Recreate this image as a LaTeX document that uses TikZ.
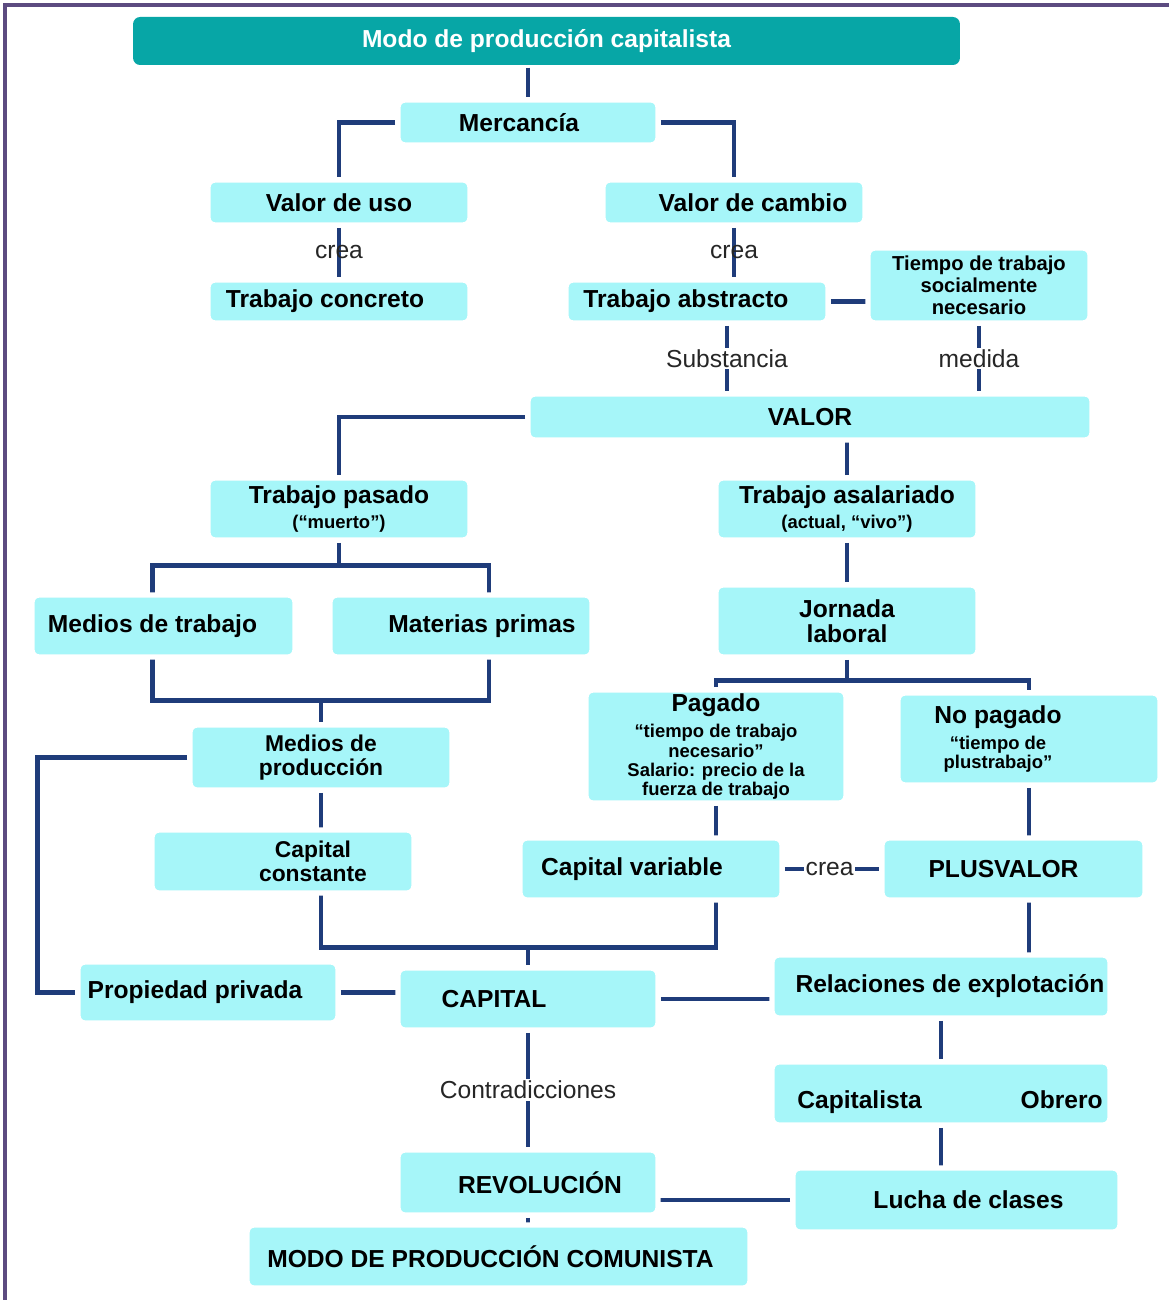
\documentclass[tikz,border=0pt]{standalone}
\usepackage{fontspec}
\setmainfont{Liberation Sans}
\usetikzlibrary{calc, backgrounds}

\definecolor{boxcyan}{HTML}{A6F6F9}
\definecolor{linkblue}{HTML}{1F3C7A}
\definecolor{titleteal}{HTML}{07A6A6}
\definecolor{framepurple}{HTML}{5C4B80}

\newcommand{\subtxt}{\fontsize{10.5}{11}\selectfont}

\tikzset{
  concept/.style = {fill=boxcyan, draw=white, line width=3pt, rounded corners=4pt, align=center, inner sep=2pt, font=\fontsize{14}{14.5}\selectfont\bfseries},
  tight/.style = {font=\fontsize{14}{11}\selectfont\bfseries},
  link/.style = {draw=linkblue, line width=2.8pt},
  linklabel/.style = {font=\fontsize{14}{15}\selectfont, text=black!85, inner sep=1pt}
}

\begin{document}
\begin{tikzpicture}[x=0.02cm, y=-0.02cm]
\useasboundingbox (0,0) rectangle (1169,1300);

\node[concept, fill=titleteal, draw=none, text=white, minimum width=16.54cm, minimum height=0.96cm] (title) at (546.5,41) {Modo de producción capitalista};
\node[concept, minimum width=5.2cm, minimum height=0.9cm] (mer) at (528,122.5) {Mercancía\hspace*{0.36cm}};
\node[concept, minimum width=5.24cm, minimum height=0.9cm] (vuso) at (339,202.5) {Valor de uso};
\node[concept, minimum width=5.24cm, minimum height=0.9cm] (vcam) at (734,202.5) {\hspace*{0.76cm}Valor de cambio};
\node[concept, minimum width=5.24cm, minimum height=0.86cm] (tcon) at (339,301.5) {Trabajo concreto\hspace*{0.56cm}};
\node[concept, minimum width=5.24cm, minimum height=0.86cm] (tabs) at (697,301.5) {Trabajo abstracto\hspace*{0.44cm}};
\node[concept, minimum width=4.44cm, minimum height=1.5cm, font=\fontsize{11.5}{12.5}\selectfont\bfseries] (tsn) at (979,285.5) {Tiempo de trabajo\\ socialmente\\ necesario};
\node[concept, minimum width=11.28cm, minimum height=0.92cm] (valor) at (810,417) {VALOR};
\node[concept, minimum width=5.24cm, minimum height=1.24cm] (tpas) at (339,509) {Trabajo pasado\\ \subtxt (“muerto”)};
\node[concept, minimum width=5.24cm, minimum height=1.24cm] (tasa) at (847,509) {Trabajo asalariado\\ \subtxt (actual, “vivo”)};
\node[concept, minimum width=5.26cm, minimum height=1.24cm] (mtra) at (163.5,626) {Medios de trabajo\hspace*{0.44cm}};
\node[concept, minimum width=5.24cm, minimum height=1.24cm] (mpri) at (461,626) {\hspace*{0.84cm}Materias primas};
\node[concept, minimum width=5.24cm, minimum height=1.44cm] (jor) at (847,621) {Jornada\\ laboral};
\node[concept, tight, minimum width=5.2cm, minimum height=2.14cm] (pag) at (716,746.5) {Pagado\\[4pt] \subtxt “tiempo de trabajo\\ \subtxt necesario”\\ \subtxt Salario: precio de la\\ \subtxt fuerza de trabajo};
\node[concept, tight, minimum width=5.24cm, minimum height=1.84cm] (nopag) at (1029,739) {\hspace*{-1.24cm}No pagado\\[4pt] \subtxt\hspace*{-1.24cm}“tiempo de\\ \subtxt\hspace*{-1.24cm}plustrabajo”};
\node[concept, minimum width=5.24cm, minimum height=1.3cm, font=\fontsize{13}{13.5}\selectfont\bfseries] (mprod) at (321,757.5) {Medios de\\ producción};
\node[concept, minimum width=5.24cm, minimum height=1.26cm, font=\fontsize{13}{13.5}\selectfont\bfseries] (ccon) at (283,861.5) {\hspace*{1.2cm}Capital\\ \hspace*{1.2cm}constante};
\node[concept, minimum width=5.24cm, minimum height=1.24cm] (cvar) at (651,869) {Capital variable\hspace*{0.76cm}};
\node[concept, minimum width=5.26cm, minimum height=1.24cm] (plus) at (1013.5,869) {PLUSVALOR\hspace*{0.4cm}};
\node[concept, minimum width=5.2cm, minimum height=1.22cm] (pprop) at (208,992.5) {Propiedad privada\hspace*{0.52cm}};
\node[concept, minimum width=5.2cm, minimum height=1.24cm] (capital) at (528,999) {CAPITAL\hspace*{1.36cm}};
\node[concept, minimum width=6.76cm, minimum height=1.26cm] (rexp) at (941,986.5) {\hspace*{0.36cm}Relaciones de explotación};
\node[concept, minimum width=6.76cm, minimum height=1.26cm] (cobr) at (941,1093.5) {\rule{0pt}{0.72cm}\hspace*{0.36cm}Capitalista\hspace{1.98cm}Obrero};
\node[concept, minimum width=6.54cm, minimum height=1.28cm] (lucha) at (956.5,1200) {\hspace*{0.48cm}Lucha de clases};
\node[concept, minimum width=5.2cm, minimum height=1.3cm] (rev) at (528,1182.5) {\hspace*{0.48cm}REVOLUCIÓN};
\node[concept, minimum width=10.06cm, minimum height=1.26cm] (comun) at (498.5,1256.5) {MODO DE PRODUCCIÓN COMUNISTA\hspace*{0.32cm}};

\begin{scope}[on background layer]
\fill[white] (0,0) rectangle (1169,1300);
\draw[link] (mer |- title.south) -- (mer);
\draw[link] (mer) -| (vuso);
\draw[link] (mer) -| (vcam);
\draw[link] (vuso.south) -- node[linklabel]{crea} (tcon.north);
\draw[link] (vcam.south) -- node[linklabel]{crea} (vcam |- tabs.north);
\draw[link] (tabs) -- (tabs -| tsn);
\coordinate (sub) at ($(tabs.south)+(30,0)$);
\draw[link] (sub) -- node[linklabel, fill=white]{Substancia} (sub |- valor.north);
\draw[link] (tsn.south) -- node[linklabel, fill=white]{medida} (tsn.south |- valor.north);
\draw[link] (valor) -| (tpas);
\draw[link] (tasa) -- (tasa |- valor);
\draw[link] (tasa) -- (jor);
\coordinate (up) at ($(tpas.south)+(0,23)$);
\coordinate (dn) at ($(mprod.north)+(0,-22)$);
\draw[link] (tpas) -- (up);
\draw[link] ($(mtra)+(-11,0)$) |- (up) -| ($(mpri)+(28,0)$);
\draw[link] ($(mtra)+(-11,0)$) |- (dn) -| ($(mpri)+(28,0)$);
\draw[link] (dn) -- (mprod);
\coordinate (lft) at ($(mprod.west)+(-150,0)$);
\draw[link] (mprod) -- (lft) |- (pprop);
\draw[link] (mprod) -- (mprod |- ccon);
\coordinate (cj) at ($(capital.north)+(0,-18)$);
\draw[link] (mprod |- ccon) |- (pag |- cj) -- (pag |- cvar);
\draw[link] (cj) -- (capital);
\draw[link] (pag) -- (pag |- cvar);
\coordinate (jj) at ($(jor.south)+(0,21)$);
\draw[link] (jor) -- (jj);
\draw[link] (pag) |- (jj) -| (nopag);
\draw[link] (cvar) -- node[linklabel, fill=white, pos=0.475]{crea} (plus);
\draw[link] (nopag) -- (nopag |- rexp);
\draw[link] (pprop) -- (pprop -| capital);
\draw[link] (capital) -- (capital -| rexp);
\draw[link] (rexp) -- (cobr);
\draw[link] (cobr) -- (cobr |- lucha);
\draw[link] (capital) -- node[linklabel, fill=white]{Contradicciones} (rev);
\draw[link] (lucha) -- (lucha -| rev);
\draw[link] (rev) -- (rev |- comun);
\end{scope}

\draw[framepurple, line width=0.08cm] (5,1300) -- (5,5) -- (1169,5);
\end{tikzpicture}
\end{document}
